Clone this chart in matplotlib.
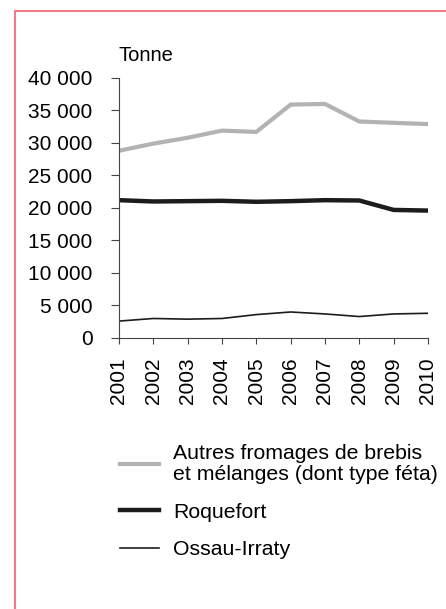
import matplotlib
matplotlib.use("Agg")
from matplotlib import pyplot as plt
from matplotlib.lines import Line2D

plt.rcParams["font.family"] = ["Liberation Sans", "DejaVu Sans"]

years = [2001, 2002, 2003, 2004, 2005, 2006, 2007, 2008, 2009, 2010]
autres = [28800, 29900, 30800, 31900, 31700, 35900, 36000, 33300, 33100, 32900]
roquefort = [21200, 21000, 21050, 21100, 20950, 21050, 21200, 21150, 19700, 19600]
ossau = [2600, 3000, 2900, 3000, 3600, 4000, 3700, 3300, 3700, 3800]

labels = ["Autres fromages de brebis\net mélanges (dont type féta)", "Roquefort", "Ossau-Irraty"]
y_ticks = [0, 5000, 10000, 15000, 20000, 25000, 30000, 35000, 40000]

grey = "#b3b3b6"
dark = "#1c1c1c"

fig = plt.figure(figsize=(4.46, 6.09), dpi=100)
ax = fig.add_axes([0.2668, 0.445, 0.6928, 0.427])

ax.plot(years, autres, color=grey, lw=3.0, solid_joinstyle="miter")
ax.plot(years, roquefort, color=dark, lw=3.2, solid_joinstyle="miter")
ax.plot(years, ossau, color=dark, lw=1.2)

ax.set_xlim(2001, 2010)
ax.set_ylim(0, 40000)
ax.set_xticks(years)
ax.set_xticklabels([str(y) for y in years], rotation=90)
ax.set_yticks(y_ticks)
ax.set_yticklabels([f"{v:,}".replace(",", " ") for v in y_ticks])

for s in ["top", "right"]:
    ax.spines[s].set_visible(False)
for s in ["left", "bottom"]:
    ax.spines[s].set_color("#444444")
    ax.spines[s].set_linewidth(0.8)

ax.tick_params(axis="y", length=5.5, width=0.8, color="#444444", pad=13.5, labelsize=15)
ax.tick_params(axis="x", length=4.3, width=0.8, color="#444444", pad=9.5, labelsize=15)

ax.text(0.0, 1.05, "Tonne", transform=ax.transAxes, fontsize=14.5, ha="left", va="bottom")

handles = [
    Line2D([], [], color=grey, lw=3.0),
    Line2D([], [], color=dark, lw=3.2),
    Line2D([], [], color=dark, lw=1.2),
]
leg = fig.legend(handles, labels, loc="upper left", bbox_to_anchor=(120 / 446, 1 - 444 / 609),
                 frameon=False, fontsize=15.3, handlelength=1.85, handletextpad=0.66,
                 labelspacing=0.87, borderpad=0, borderaxespad=0)
for t in leg.get_texts():
    t.set_linespacing(1.16)

# pink frame (left and top edges visible)
pink = "#f07a88"
fig.add_artist(Line2D([15 / 446, 15 / 446], [0, 1 - 11 / 609], color=pink, lw=1.5,
                      transform=fig.transFigure))
fig.add_artist(Line2D([15 / 446, 1], [1 - 11 / 609, 1 - 11 / 609], color=pink, lw=1.5,
                      transform=fig.transFigure))

fig.savefig("out.png", dpi=100)
